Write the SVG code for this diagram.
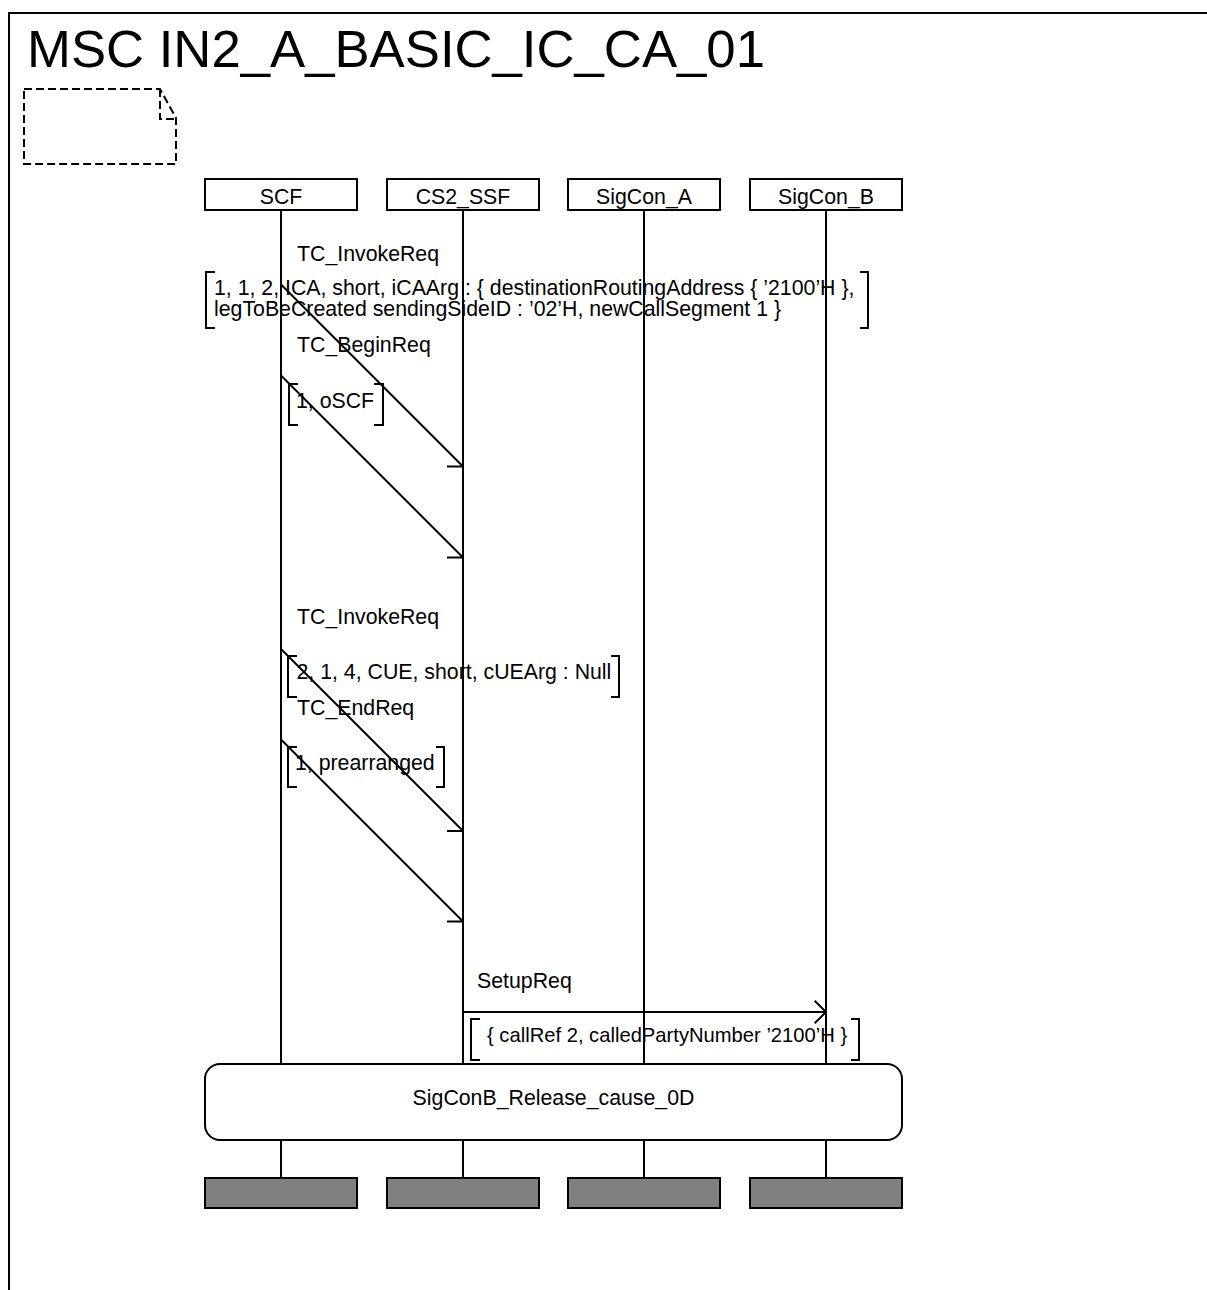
<svg xmlns="http://www.w3.org/2000/svg" width="1207" height="1290" viewBox="0 0 1207 1290">
<style>
  text { font-family: "Liberation Sans", Arial, sans-serif; fill: #000; }
  .t { font-size: 21.3px; }
  .s { font-size: 20.2px; }
  .title { font-size: 52.7px; }
  .mid { text-anchor: middle; }
  .ln { stroke: #000; stroke-width: 2; fill: none; }
  .box { stroke: #000; stroke-width: 2; fill: #fff; }
  .end { stroke: #000; stroke-width: 2; fill: #808080; }
  .br { stroke: #000; stroke-width: 2; fill: none; }
  .msg { stroke: #000; stroke-width: 2; fill: none; marker-end: url(#arr); }
  .dash { stroke: #000; stroke-width: 2; fill: none; stroke-dasharray: 8 4; }
</style>
<defs>
  <marker id="arr" markerUnits="userSpaceOnUse" markerWidth="30" markerHeight="30" viewBox="-15 -15 30 30" refX="0" refY="0" orient="auto" overflow="visible">
    <path d="M-11.3,-11.3 L0,0 L-11.3,11.3" stroke="#000" stroke-width="2" fill="none"/>
  </marker>
</defs>
<rect width="1207" height="1290" fill="#fff"/>
<g id="frame">
  <rect x="9" y="13" width="1260" height="1320" class="ln"/>
  <text x="27" y="67" class="title">MSC IN2_A_BASIC_IC_CA_01</text>
</g>
<g id="note">
  <path d="M24,89 H160 L176,118 V164 H24 Z" class="dash"/>
  <path d="M160,89 V119 H176" class="dash"/>
</g>
<g id="SCF">
  <line x1="281" y1="210" x2="281" y2="1064" class="ln"/>
  <line x1="281" y1="1140" x2="281" y2="1178" class="ln"/>
  <rect x="205" y="179" width="152" height="31" class="box"/>
  <text x="281" y="204" class="t mid">SCF</text>
  <rect x="205" y="1178" width="152" height="30" class="end"/>
</g>
<g id="CS2_SSF">
  <line x1="463" y1="210" x2="463" y2="1064" class="ln"/>
  <line x1="463" y1="1140" x2="463" y2="1178" class="ln"/>
  <rect x="387" y="179" width="152" height="31" class="box"/>
  <text x="463" y="204" class="t mid">CS2_SSF</text>
  <rect x="387" y="1178" width="152" height="30" class="end"/>
</g>
<g id="SigCon_A">
  <line x1="644" y1="210" x2="644" y2="1064" class="ln"/>
  <line x1="644" y1="1140" x2="644" y2="1178" class="ln"/>
  <rect x="568" y="179" width="152" height="31" class="box"/>
  <text x="644" y="204" class="t mid">SigCon_A</text>
  <rect x="568" y="1178" width="152" height="30" class="end"/>
</g>
<g id="SigCon_B">
  <line x1="826" y1="210" x2="826" y2="1064" class="ln"/>
  <line x1="826" y1="1140" x2="826" y2="1178" class="ln"/>
  <rect x="750" y="179" width="152" height="31" class="box"/>
  <text x="826" y="204" class="t mid">SigCon_B</text>
  <rect x="750" y="1178" width="152" height="30" class="end"/>
</g>
<g id="ref_SigConB_Release_cause_0D">
  <rect x="205" y="1064" width="697" height="76" rx="15" ry="15" class="box"/>
  <text x="553.5" y="1105" class="t mid">SigConB_Release_cause_0D</text>
</g>
<g id="labels">
  <text x="297" y="261" class="t">TC_InvokeReq</text>
  <path d="M215,272 H206 V328 H215 M860,272 H868 V328 H860" class="br"/>
  <text class="t"><tspan x="214" y="294.5">1, 1, 2, ICA, short, iCAArg : { destinationRoutingAddress { ’2100’H },</tspan><tspan x="214" y="315.5">legToBeCreated sendingSideID : ’02’H, newCallSegment 1 }</tspan></text>

  <text x="297" y="352" class="t">TC_BeginReq</text>
  <path d="M298,384 H289 V425 H298 M374,384 H383 V425 H374" class="br"/>
  <text x="296" y="408" class="t">1, oSCF</text>

  <text x="297" y="624" class="t">TC_InvokeReq</text>
  <path d="M297,656 H288 V697 H297 M611,656 H619 V697 H611" class="br"/>
  <text x="296.5" y="679" class="t">2, 1, 4, CUE, short, cUEArg : Null</text>

  <text x="297" y="715" class="t">TC_EndReq</text>
  <path d="M297,747 H288 V787 H297 M436,747 H444 V787 H436" class="br"/>
  <text x="295" y="770" class="t">1, prearranged</text>

  <text x="477" y="988" class="t">SetupReq</text>
  <path d="M480,1019 H471 V1060 H480 M851,1019 H859 V1060 H851" class="br"/>
  <text x="487" y="1042" class="s">{ callRef 2, calledPartyNumber ’2100’H }</text>
</g>
<g id="connectors">
  <line x1="281" y1="284.5" x2="463" y2="466.5" class="msg"/>
  <line x1="281" y1="375.5" x2="463" y2="557.5" class="msg"/>
  <line x1="281" y1="649" x2="463" y2="831" class="msg"/>
  <line x1="281" y1="739.5" x2="463" y2="921.5" class="msg"/>
  <line x1="463" y1="1012" x2="826" y2="1012" class="msg"/>
</g>
</svg>
